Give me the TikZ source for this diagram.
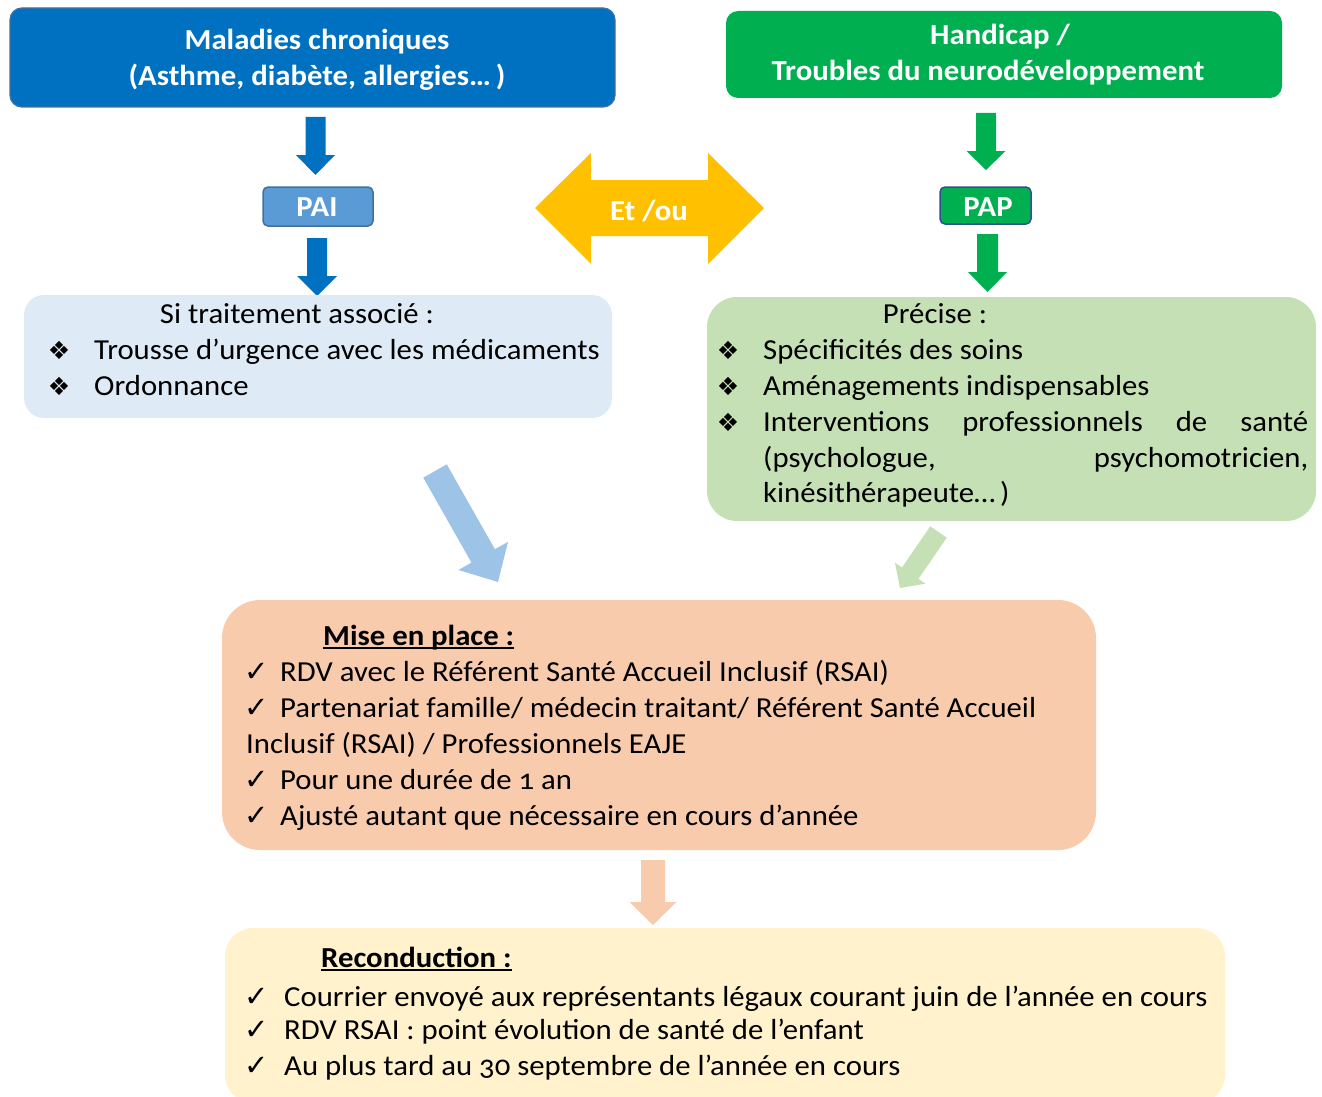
\documentclass[tikz,border=0pt]{standalone}
\usepackage{fontspec}
\setmainfont{Carlito}[Numbers=OldStyle,FakeStretch=1.06]
\newfontfamily\symf{DejaVu Sans}
\usetikzlibrary{calc}
\definecolor{cBlue}{HTML}{0070C0}
\definecolor{cBlueB}{HTML}{41719C}
\definecolor{cPAI}{HTML}{5B9BD5}
\definecolor{cGreen}{HTML}{00B050}
\definecolor{cPAPB}{HTML}{2F528F}
\definecolor{cYel}{HTML}{FFC000}
\definecolor{cLB}{HTML}{DEEBF7}
\definecolor{cLG}{HTML}{C5E0B4}
\definecolor{cOr}{HTML}{F8CBAD}
\definecolor{cLY}{HTML}{FFF2CC}
\definecolor{cDiagB}{HTML}{9DC3E6}
\newcommand\bodyfs{\fontsize{29}{35}\selectfont}
\newcommand\barrow[6]{%
  \coordinate (bah) at ($(#2)!#5!(#1)$);
  \fill[#6] ($(#1)!#3!90:(#2)$) -- ($(bah)!#3!90:(#2)$) -- ($(bah)!#4!90:(#2)$) -- (#2)
    -- ($(bah)!#4!-90:(#2)$) -- ($(bah)!#3!-90:(#2)$) -- ($(#1)!#3!-90:(#2)$) -- cycle;}
\newcommand\dia{{\symf\fontsize{25}{25}\selectfont ❖}}
\newcommand\chk{{\symf\fontsize{29}{29}\selectfont ✓}}
\begin{document}
\begin{tikzpicture}[x=1pt,y=-1pt,
  hdr/.style={inner sep=0pt, anchor=base, text=white, font=\bfseries\bodyfs},
  txt/.style={inner sep=0pt, anchor=base west, font=\bodyfs},
  ctxt/.style={inner sep=0pt, anchor=base, font=\bodyfs},
  sym/.style={inner sep=0pt, anchor=base, font=\bodyfs},
  panel/.style={inner sep=0pt, draw=none}]
\useasboundingbox (0,0) rectangle (1322,1097);

% top boxes
\node[panel, fill=cBlue, draw=cBlueB, line width=1.3pt, rounded corners=12pt,
  minimum width=605pt, minimum height=99pt] (mc) at (312.5,57.5) {};
\node[hdr] (mc1) at (317,50) {Maladies chroniques};
\node[hdr] (mc2) at (317,86) {(Asthme, diabète, allergies…\,)};

\node[panel, fill=cGreen, rounded corners=12pt,
  minimum width=556pt, minimum height=87pt] (hd) at (1004,54.5) {};
\node[hdr] (hd1) at (1000,45) {Handicap /};
\node[hdr] (hd2) at (988,81) {Troubles du neurodéveloppement};

% PAI / PAP
\node[panel, fill=cPAI, draw=cBlueB, line width=1.5pt, rounded corners=5pt,
  minimum width=110pt, minimum height=39pt] (pai) at (318,206.5) {};
\node[hdr] (pait) at (317,216) {PAI};
\node[panel, fill=cGreen, draw=cPAPB, line width=1.5pt, rounded corners=5pt,
  minimum width=91pt, minimum height=37pt] (pap) at (985.5,205.5) {};
\node[hdr] (papt) at (988,216) {PAP};

% vertical arrows
\coordinate (b1a) at (315.5,117); \coordinate (b1b) at (315.5,175);
\barrow{b1a}{b1b}{10pt}{19.5pt}{20pt}{cBlue}
\coordinate (b2a) at (317,238); \coordinate (b2b) at (317,296);
\barrow{b2a}{b2b}{10pt}{20pt}{20pt}{cBlue}
\coordinate (g1a) at (986,113); \coordinate (g1b) at (986,170);
\barrow{g1a}{g1b}{10pt}{19.5pt}{19pt}{cGreen}
\coordinate (g2a) at (987.5,234); \coordinate (g2b) at (987.5,292);
\barrow{g2a}{g2b}{10.5pt}{19.5pt}{20pt}{cGreen}

% double arrow
\fill[cYel] (535,208) -- (591,153) -- (591,180) -- (708,180) -- (708,153) -- (764,208)
  -- (708,264) -- (708,236) -- (591,236) -- (591,264) -- cycle;
\node[hdr] (etou) at (649,220) {Et /ou};

% light blue box
\node[panel, fill=cLB, rounded corners=20pt,
  minimum width=588pt, minimum height=123pt] (lb) at (318,356.5) {};
\node[ctxt] (lbt) at (297,323) {Si traitement associé :};
\node[sym] (lbd1) at (59,359) {\dia};
\node[txt] (lb1) at (94,359) {Trousse d’urgence avec les médicaments};
\node[sym] (lbd2) at (59,395) {\dia};
\node[txt] (lb2) at (94,395) {Ordonnance};

% light green box
\node[panel, fill=cLG, rounded corners=30pt,
  minimum width=609pt, minimum height=224pt] (lg) at (1011.5,409) {};
\node[ctxt] (lgt) at (935,323) {Précise :};
\node[sym] (lgd1) at (728,359) {\dia};
\node[txt] (lg1) at (763,359) {Spécificités des soins};
\node[sym] (lgd2) at (728,395) {\dia};
\node[txt] (lg2) at (763,395) {Aménagements indispensables};
\node[sym] (lgd3) at (728,431) {\dia};
\node[txt] (lg3) at (763,431) {\makebox[545pt][s]{Interventions\hfill professionnels\hfill de\hfill santé}};
\node[txt] (lg4) at (763,467) {\makebox[545pt][s]{(psychologue,\hfill psychomotricien,}};
\node[txt] (lg5) at (763,502) {kinésithérapeute…\,)};

% diagonal arrows
\coordinate (dba) at (435,471); \coordinate (dbb) at (498,582);
\barrow{dba}{dbb}{13.5pt}{28.5pt}{30pt}{cDiagB}
\coordinate (dga) at (938.5,532); \coordinate (dgb) at (900,588);
\barrow{dga}{dgb}{10pt}{18.5pt}{18pt}{cLG}

% orange box
\node[panel, fill=cOr, rounded corners=38pt,
  minimum width=874pt, minimum height=250pt] (mp) at (659,725) {};
\node[txt, font=\bfseries\bodyfs] (mpt) at (323,645) {Mise en place :};
\draw[line width=1.3pt] ($(mpt.base west)+(0,3)$) -- ($(mpt.base east)+(0,3)$);
\node[sym] (mpc1) at (257,681) {\chk};
\node[txt] (mp1) at (280,681) {RDV avec le Référent Santé Accueil Inclusif (RSAI)};
\node[sym] (mpc2) at (257,717) {\chk};
\node[txt] (mp2) at (280,717) {Partenariat famille/ médecin traitant/ Référent Santé Accueil};
\node[txt] (mp3) at (246,753) {Inclusif (RSAI) / Professionnels EAJE};
\node[sym] (mpc4) at (257,789) {\chk};
\node[txt] (mp4) at (280,789) {Pour une durée de 1 an};
\node[sym] (mpc5) at (257,825) {\chk};
\node[txt] (mp5) at (280,825) {Ajusté autant que nécessaire en cours d’année};

% peach arrow
\coordinate (pa) at (653,860); \coordinate (pb) at (653,925);
\barrow{pa}{pb}{12pt}{23.5pt}{23pt}{cOr}

% yellow box
\node[panel, fill=cLY, rounded corners=28pt,
  minimum width=1000pt, minimum height=175pt] (rc) at (725,1015.5) {};
\node[txt, font=\bfseries\bodyfs] (rct) at (321,967) {Reconduction :};
\draw[line width=1.3pt] ($(rct.base west)+(0,3)$) -- ($(rct.base east)+(0,3)$);
\node[sym] (rcc1) at (257,1006) {\chk};
\node[txt] (rc1) at (284,1006) {Courrier envoyé aux représentants légaux courant juin de l’année en cours};
\node[sym] (rcc2) at (257,1039) {\chk};
\node[txt] (rc2) at (284,1039) {RDV RSAI : point évolution de santé de l’enfant};
\node[sym] (rcc3) at (257,1075) {\chk};
\node[txt] (rc3) at (284,1075) {Au plus tard au 30 septembre de l’année en cours};
\end{tikzpicture}
\end{document}
